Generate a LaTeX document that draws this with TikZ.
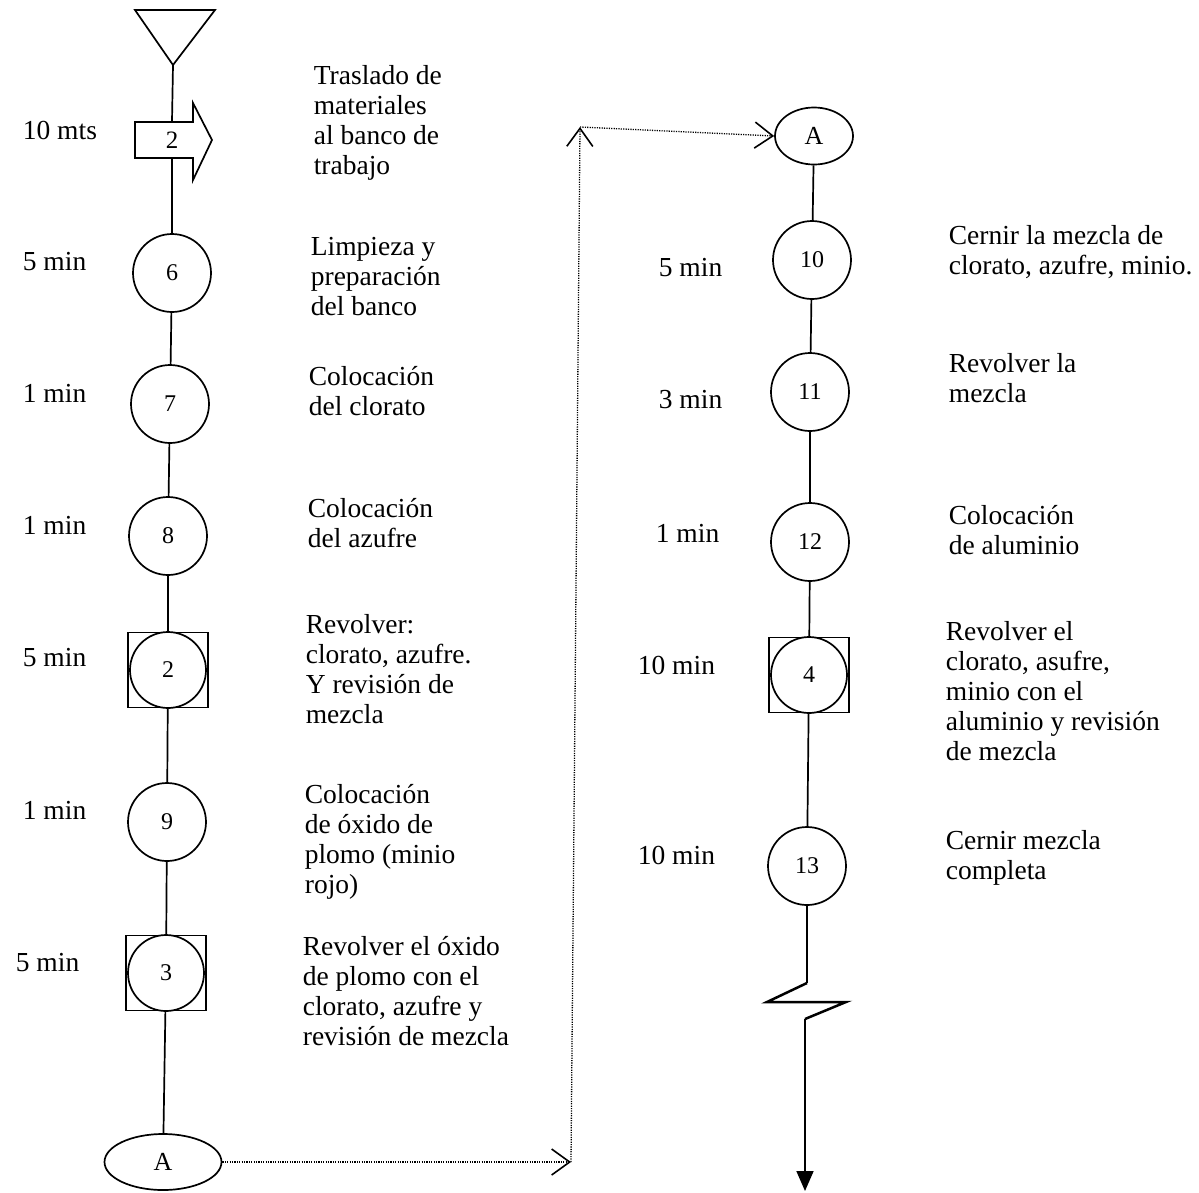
\documentclass[tikz,border=0pt]{standalone}
\usepackage{fontspec}
\setmainfont{Liberation Serif}
\usetikzlibrary{arrows.meta,calc,shapes.geometric}
\begin{document}
\begin{tikzpicture}[x=1pt,y=-1pt,line width=1.7pt,
  txt/.style={font=\fontsize{27.5}{30}\selectfont, inner sep=0pt, align=left, anchor=north west},
  tm/.style={font=\fontsize{27.5}{30}\selectfont, inner sep=0pt, anchor=west},
  op/.style={circle, draw, minimum size=78pt, inner sep=0pt, font=\fontsize{24}{26}\selectfont},
  insp/.style={rectangle, draw, minimum width=80pt, minimum height=75pt, inner sep=0pt},
  opin/.style={circle, draw, minimum size=76pt, inner sep=0pt, font=\fontsize{24}{26}\selectfont},
  conn/.style={ellipse, draw, inner sep=0pt, font=\fontsize{26}{28}\selectfont},
  dotline/.style={line width=1.3pt, dash pattern=on 1.2pt off 1.2pt},
  barb/.style={-{Straight Barb[length=18pt,width=26pt,line width=1.6pt]}}
]
\useasboundingbox (0,0) rectangle (1199,1192);

% ---------- left column ----------
\draw (135,10) -- (215,10) -- (173,65) -- cycle;
\coordinate (tri) at (173,65);

\node[inner sep=0pt, minimum width=20pt, minimum height=36pt, font=\fontsize{25}{27}\selectfont] (ar2) at (172,140) {2};
\draw (135,122) -- (193,122) -- (193,103) -- (212,140) -- (193,180) -- (193,158) -- (135,158) -- cycle;

\node[op] (c6) at (172,273) {6};
\node[op] (c7) at (170,404) {7};
\node[op] (c8) at (168,536) {8};
\node[insp] (s2) at (168,670) {};
\node[opin] (s2c) at (168,670) {2};
\node[op] (c9) at (167,822) {9};
\node[insp] (s3) at (166,973) {};
\node[opin] (s3c) at (166,973) {3};
\node[conn, minimum width=117pt, minimum height=56pt] (A1) at (163,1162) {A};

\draw (tri) -- (ar2.north);
\draw (ar2.south) -- (c6);
\draw (c6) -- (c7);
\draw (c7) -- (c8);
\draw (c8) -- (s2);
\draw (s2) -- (c9);
\draw (c9) -- (s3);
\draw (s3) -- (A1);

% times left
\node[tm] (t1) at (22,130) {10 mts};
\node[tm] (t2) at (22,262) {5 min};
\node[tm] (t3) at (22,393) {1 min};
\node[tm] (t4) at (22,525) {1 min};
\node[tm] (t5) at (22,658) {5 min};
\node[tm] (t6) at (22,810) {1 min};
\node[tm] (t7) at (15,963) {5 min};

% descriptions left
\node[txt] (b1) at (313,65) {Traslado de\\materiales\\al banco de\\trabajo};
\node[txt] (b2) at (310,236) {Limpieza y\\preparación\\del banco};
\node[txt] (b3) at (308,366) {Colocación\\del clorato};
\node[txt] (b4) at (307,498) {Colocación\\del azufre};
\node[txt] (b5) at (305,614) {Revolver:\\clorato, azufre.\\Y revisión de\\mezcla};
\node[txt] (b6) at (304,784) {Colocación\\de óxido de\\plomo (minio\\rojo)};
\node[txt] (b7) at (302,936) {Revolver el óxido\\de plomo con el\\clorato, azufre y\\revisión de mezcla};

% ---------- connector between columns ----------
\coordinate (d1) at (571,1162);
\coordinate (d2) at (580,127);
\node[conn, minimum width=78pt, minimum height=57pt] (A2) at (814,136) {A};
\draw[dotline, barb] (A1.east) -- (d1);
\draw[dotline, barb] (d1) -- (d2);
\draw[dotline, barb] (d2) -- (A2.west);

% ---------- right column ----------
\node[op] (c10) at (812,260) {10};
\node[op] (c11) at (810,392) {11};
\node[op] (c12) at (810,542) {12};
\node[insp] (s4) at (809,675) {};
\node[opin] (s4c) at (809,675) {4};
\node[op] (c13) at (807,866) {13};

\draw (A2) -- (c10);
\draw (c10) -- (c11);
\draw (c11) -- (c12);
\draw (c12) -- (s4);
\draw (s4) -- (c13);

\coordinate (z0) at (807,983);
\coordinate (z1) at (767,1002);
\coordinate (z2) at (846,1002);
\coordinate (z3) at (805,1019);
\coordinate (zend) at (805,1191);
\draw (c13) -- (z0);
\draw[line width=2.5pt] (z0) -- (z1) -- (z2) -- (z3);
\draw[-{Triangle[length=20pt,width=17pt]}] (z3) -- (zend);

% times right
\node[tm] (t8) at (658,268) {5 min};
\node[tm] (t9) at (658,400) {3 min};
\node[tm] (t10) at (655,533) {1 min};
\node[tm] (t11) at (637,665) {10 min};
\node[tm] (t12) at (637,855) {10 min};

% descriptions right
\node[txt] (r1) at (948,225) {Cernir la mezcla de\\clorato, azufre, minio.};
\node[txt] (r2) at (948,353) {Revolver la\\mezcla};
\node[txt] (r3) at (948,505) {Colocación\\de aluminio};
\node[txt] (r4) at (945,621) {Revolver el\\clorato, asufre,\\minio con el\\aluminio y revisión\\de mezcla};
\node[txt] (r5) at (945,830) {Cernir mezcla\\completa};
\end{tikzpicture}
\end{document}
